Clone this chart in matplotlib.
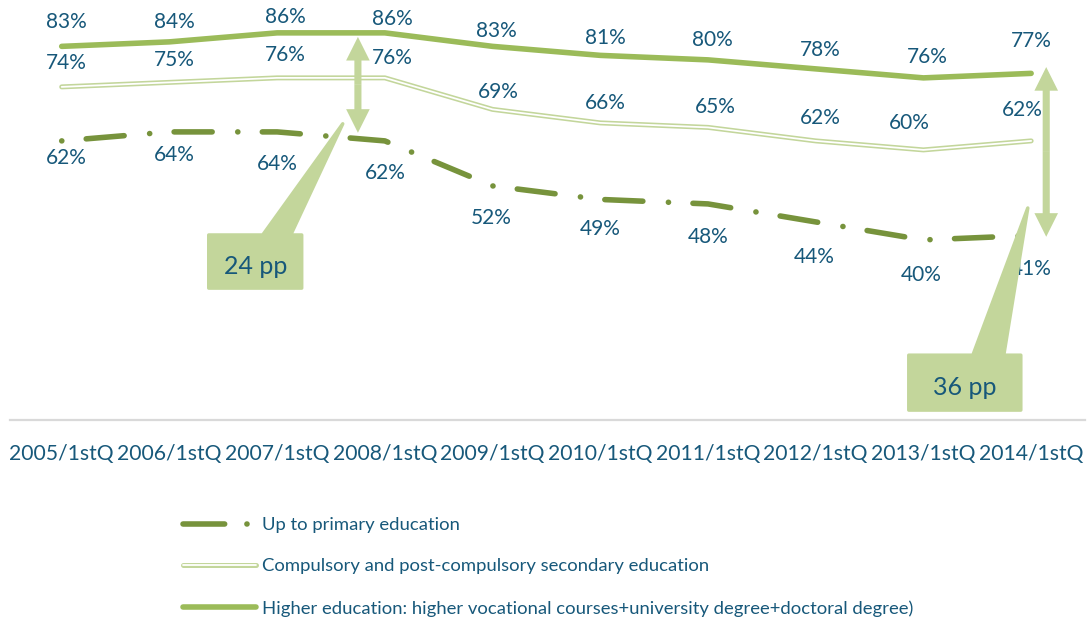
import matplotlib.pyplot as plt
from matplotlib.lines import Line2D
from matplotlib.patches import Polygon, FancyArrowPatch
from matplotlib.legend_handler import HandlerTuple

plt.rcParams['font.family'] = 'Lato'
plt.rcParams['lines.scale_dashes'] = False

quarters = ['2005/1stQ', '2006/1stQ', '2007/1stQ', '2008/1stQ', '2009/1stQ',
            '2010/1stQ', '2011/1stQ', '2012/1stQ', '2013/1stQ', '2014/1stQ']
primary = [62, 64, 64, 62, 52, 49, 48, 44, 40, 41]
secondary = [74, 75, 76, 76, 69, 66, 65, 62, 60, 62]
higher = [83, 84, 86, 86, 83, 81, 80, 78, 76, 77]

primary_name = 'Up to primary education'
secondary_name = 'Compulsory and post-compulsory secondary education'
higher_name = 'Higher education: higher vocational courses+university degree+doctoral degree)'

# label offsets from each point, in pixels (dx, dy up)
higher_dx = [5, 5, 8, 8, 4, 5, 4, 5, 4, 0]
higher_dy = [24, 20, 16, 14, 15, 17, 20, 19, 21, 32]
secondary_dx = [5, 5, 8, 7, 6, 5, 7, 5, -14, -9]
secondary_dy = [24, 22, 23, 20, 17, 20, 20, 23, 27, 31]
primary_dx = [5, 5, 0, 0, -1, 0, 0, -1, -2, 0]
primary_dy = [-17, -23, -32, -32, -32, -30, -33, -35, -35, -34]

DARK = '#77933C'
MID = '#9BBB59'
LIGHT = '#C3D69B'
TEXT = '#17587A'

fig = plt.figure(figsize=(10.89, 6.22), dpi=100)
ax = fig.add_axes([10 / 1089, 1 - 420 / 622, 1075 / 1089, 420 / 622])
x = range(len(quarters))

ax.plot(x, higher, color=MID, lw=4, solid_capstyle='round', solid_joinstyle='round', zorder=3)
ax.plot(x, secondary, color=LIGHT, lw=3.6, solid_capstyle='round', zorder=3)
ax.plot(x, secondary, color='white', lw=1.3, solid_capstyle='round', zorder=3)
ax.plot(x, primary, color=DARK, lw=4, ls=(0, (0.1, 17.6, 27.4, 18.4)),
        dash_capstyle='round', dash_joinstyle='round', zorder=3)

for vals, dxs, dys in [(higher, higher_dx, higher_dy),
                       (secondary, secondary_dx, secondary_dy),
                       (primary, primary_dx, primary_dy)]:
    for i, v in enumerate(vals):
        ax.annotate(f'{v}%', (i, v), xytext=(dxs[i], dys[i]), textcoords='offset pixels',
                    ha='center', va='center', fontsize=15, color=TEXT, zorder=4)


def gap_arrow(xpos, low, high):
    mid = (low + high) / 2
    style = 'simple,head_length=1,head_width=1,tail_width=0.3'
    for end in (low, high):
        ax.add_patch(FancyArrowPatch((xpos, mid), (xpos, end), arrowstyle=style,
                                     mutation_scale=17, color=LIGHT, lw=0,
                                     shrinkA=0, shrinkB=0, zorder=5))


def callout(box, base, tip, label):
    x0, x1, y0, y1 = box
    pts = [(x0, y0), (x1, y0), (x1, y1), (base[1], y1), tip, (base[0], y1), (x0, y1)]
    ax.add_patch(Polygon(pts, closed=True, facecolor=LIGHT, edgecolor=LIGHT,
                         lw=2.5, joinstyle='round', zorder=6))
    ax.text((x0 + x1) / 2, (y0 + y1) / 2 - 1, label, ha='center', va='center',
            fontsize=18, color=TEXT, zorder=7)


gap_arrow(2.75, 63.8, 85.1)
gap_arrow(9.14, 40.7, 78.4)
callout((1.365, 2.228, 29.3, 41.1), (1.866, 2.126), (2.609, 65.8), '24 pp')
callout((7.864, 8.904, 2.2, 14.4), (8.459, 8.746), (8.969, 47.1), '36 pp')

ax.set_xlim(-0.48, 9.5)
ax.set_ylim(0, 93.3)
ax.set_xticks(list(x), quarters)
ax.tick_params(axis='x', length=0, pad=17, labelsize=15.2, labelcolor=TEXT)
ax.set_yticks([])
for side in ['top', 'left', 'right']:
    ax.spines[side].set_visible(False)
ax.spines['bottom'].set_color('#D9D9D9')
ax.spines['bottom'].set_linewidth(1.6)

# legend samples
primary_handle = Line2D([], [], color=DARK, lw=4, ls=(0, (30, 16, 0.1, 100)),
                        dash_capstyle='round')
sec_outer = Line2D([], [], color=LIGHT, lw=3.6, solid_capstyle='round')
sec_inner = Line2D([], [], color='white', lw=1.3, solid_capstyle='round')
higher_handle = Line2D([], [], color=MID, lw=4, solid_capstyle='round')
fig.legend([primary_handle, (sec_outer, sec_inner), higher_handle],
           [primary_name, secondary_name, higher_name],
           handler_map={tuple: HandlerTuple(ndivide=1)},
           loc='upper left', bbox_to_anchor=(183 / 1089, 1 - 517 / 622),
           frameon=False, fontsize=13.3, labelcolor=TEXT, handlelength=3.95,
           handletextpad=0.3, labelspacing=1.38, borderpad=0, borderaxespad=0)

fig.savefig('out.png', dpi=100)
